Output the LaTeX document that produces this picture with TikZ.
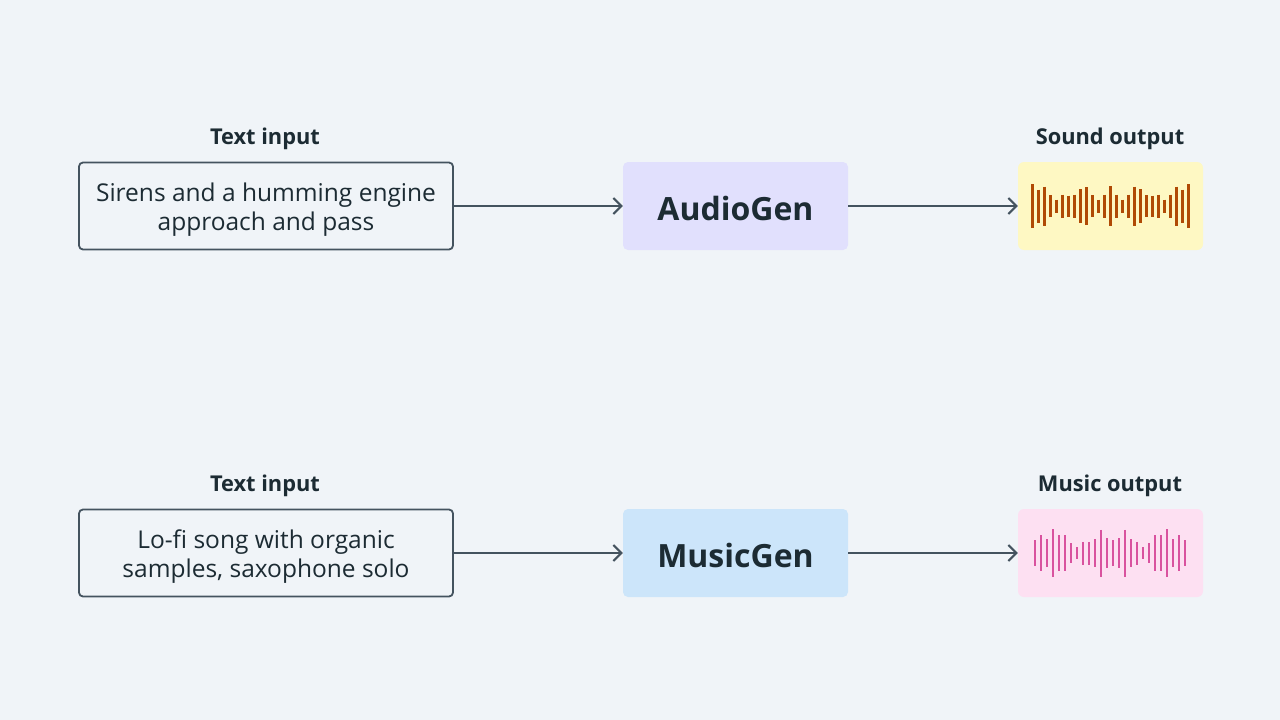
\documentclass[tikz,border=0pt]{standalone}
\usepackage{fontspec}
\setmainfont{Open Sans}
\usetikzlibrary{arrows.meta}
\definecolor{bg}{HTML}{F0F4F8}
\definecolor{ink}{HTML}{1C2B33}
\definecolor{edge}{HTML}{44535F}
\definecolor{lav}{HTML}{E1E0FD}
\definecolor{sky}{HTML}{CCE5FA}
\definecolor{yel}{HTML}{FEF8C3}
\definecolor{pnk}{HTML}{FDE0F2}
\definecolor{orb}{HTML}{B04A05}
\definecolor{pkb}{HTML}{D9529F}
\tikzset{
  inbox/.style={draw=edge, line width=1.8pt, rounded corners=4pt, minimum width=374pt, minimum height=87pt, inner sep=0pt},
  intext/.style={align=center, text=ink, font=\fontsize{24.5}{29}\selectfont, inner sep=0pt},
  genbox/.style={rounded corners=5pt, minimum width=225pt, minimum height=88pt, inner sep=0pt},
  gentext/.style={text=ink, font=\fontsize{32}{36}\selectfont\bfseries, inner sep=0pt},
  outbox/.style={rounded corners=6pt, minimum width=185pt, minimum height=88pt, inner sep=0pt},
  lbl/.style={text=ink, font=\fontsize{21.8}{25}\selectfont\bfseries, inner sep=0pt},
  conn/.style={draw=edge, line width=1.8pt, -{Straight Barb[length=8pt,width=16pt,line width=2pt]}},
  bar/.style={line width=2.4pt},
}
\begin{document}
\begin{tikzpicture}[x=1pt,y=-1pt]
\fill[bg] (0,0) rectangle (1280,720);
\useasboundingbox (0,0) rectangle (1280,720);
% row 1
\node[lbl] (l1) at (265,139) {Text input};
\node[lbl] (l2) at (1110,139) {Sound output};
\node[inbox] (t1) at (266,206) {};
\node[intext] (t1t) at (266,210) {Sirens and a humming engine\\approach and pass};
\node[genbox, fill=lav] (g1) at (735.5,206) {};
\node[gentext] (g1t) at (735.5,208) {AudioGen};
\node[outbox, fill=yel] (o1) at (1110.5,206) {};
\draw[conn] (t1.east) -- (g1.west);
\draw[conn] (g1.east) -- (o1.west);
\foreach \h [count=\i from 0] in {44,33,39,22,13,23,21,23,34,38,22,13,23,40,23,13,23,39,34,22,21,23,13,23,39,33,44}{
  \draw[bar, orb] (1032.3+6*\i,206-\h/2) -- (1032.3+6*\i,206+\h/2);
}
% row 2
\node[lbl] (l3) at (265,486) {Text input};
\node[lbl] (l4) at (1110,486) {Music output};
\node[inbox] (t2) at (266,553) {};
\node[intext] (t2t) at (266,557) {Lo-fi song with organic\\samples, saxophone solo};
\node[genbox, fill=sky] (g2) at (735.5,553) {};
\node[gentext] (g2t) at (735.5,555) {MusicGen};
\node[outbox, fill=pnk] (o2) at (1110.5,553) {};
\draw[conn] (t2.east) -- (g2.west);
\draw[conn] (g2.east) -- (o2.west);
\foreach \h [count=\i from 0] in {26,36,28,48,36,36,20,12,23,23,28,47,30,26,30,47,28,23,12,20,36,36,48,28,36,26}{
  \draw[bar, pkb] (1035+6*\i,553.3-\h/2) -- (1035+6*\i,553.3+\h/2);
}
\end{tikzpicture}
\end{document}
